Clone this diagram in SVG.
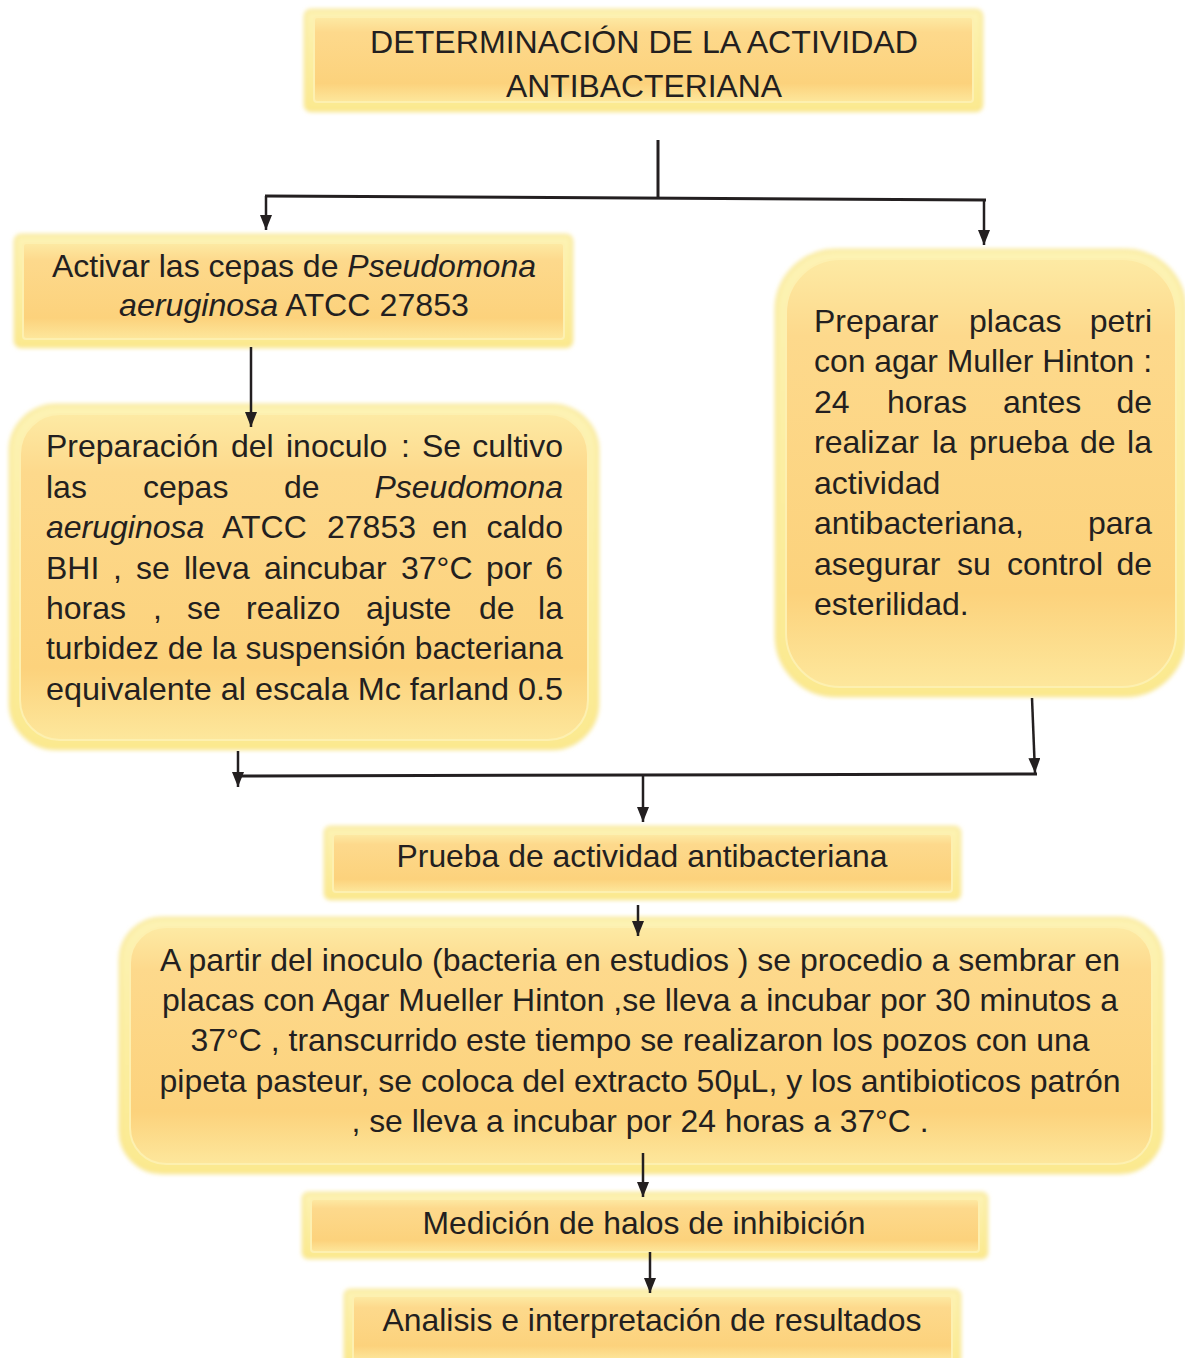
<svg xmlns="http://www.w3.org/2000/svg" width="1185" height="1358" viewBox="0 0 1185 1358">
  <defs>
    <linearGradient id="fill" x1="0" y1="0" x2="0" y2="1">
      <stop offset="0" stop-color="#fdeaa4"/>
      <stop offset="0.18" stop-color="#fdd98c"/>
      <stop offset="0.78" stop-color="#fcd27c"/>
      <stop offset="1" stop-color="#fde79c"/>
    </linearGradient>
    <linearGradient id="edge" x1="0" y1="0" x2="0" y2="1">
      <stop offset="0" stop-color="#fdf3b4"/>
      <stop offset="1" stop-color="#fbe98f"/>
    </linearGradient>
    <filter id="soft" x="-5%" y="-10%" width="110%" height="120%">
      <feGaussianBlur stdDeviation="2"/>
    </filter>
    <marker id="arrow" viewBox="0 0 15 12" refX="15" refY="6" markerWidth="15" markerHeight="12" markerUnits="userSpaceOnUse" orient="auto">
      <path d="M0,0 L15,6 L0,12 Z" fill="#231f20"/>
    </marker>
  </defs>
  <style>
    .outer { fill: url(#edge); stroke: #f7e27e; stroke-width: 2; filter: url(#soft); }
    .inner { fill: url(#fill); stroke: #fdf0b0; stroke-width: 2; }
    .t { font-family: "Liberation Sans", Arial, sans-serif; font-size: 32px; fill: #231f20; }
    .c { text-anchor: middle; }
    .e { text-anchor: end; }
    .i { font-style: italic; }
    .line { fill: none; stroke: #231f20; stroke-width: 3; }
    .arr { fill: none; stroke: #231f20; stroke-width: 2.5; marker-end: url(#arrow); }
  </style>
  <rect width="1185" height="1358" fill="#ffffff"/>

  <!-- Title -->
  <g id="title">
    <rect class="outer" x="305" y="10" width="677" height="101" rx="6"/>
    <rect class="inner" x="314" y="17" width="659" height="85" rx="3"/>
    <text class="t c" x="644" y="53" font-size="34" textLength="548" lengthAdjust="spacingAndGlyphs">DETERMINACIÓN DE LA ACTIVIDAD</text>
    <text class="t c" x="644" y="97" font-size="34" textLength="276" lengthAdjust="spacingAndGlyphs">ANTIBACTERIANA</text>
  </g>

  <!-- Activate strains -->
  <g id="activar">
    <rect class="outer" x="15" y="235" width="557" height="112" rx="6"/>
    <rect class="inner" x="23" y="243" width="541" height="96" rx="3"/>
    <text class="t c" x="294" y="277" textLength="484" lengthAdjust="spacingAndGlyphs">Activar las cepas de <tspan class="i">Pseudomona</tspan></text>
    <text class="t c" x="294" y="316" textLength="350" lengthAdjust="spacingAndGlyphs"><tspan class="i">aeruginosa</tspan> ATCC 27853</text>
  </g>

  <!-- Inoculum preparation -->
  <g id="inoculo">
    <rect class="outer" x="10" y="405" width="588" height="344" rx="46"/>
    <rect class="inner" x="20" y="414" width="568" height="326" rx="40"/>
    <text class="t" y="457"><tspan x="46">Preparación</tspan><tspan x="231">del</tspan><tspan x="286">inoculo</tspan><tspan x="401">:</tspan><tspan x="422">Se</tspan><tspan x="563" class="e">cultivo</tspan></text>
    <text class="t" y="498"><tspan x="46">las</tspan><tspan x="143">cepas</tspan><tspan x="284">de</tspan><tspan x="563" class="e i">Pseudomona</tspan></text>
    <text class="t" y="538"><tspan x="46" class="i">aeruginosa</tspan><tspan x="222">ATCC</tspan><tspan x="327">27853</tspan><tspan x="432">en</tspan><tspan x="563" class="e">caldo</tspan></text>
    <text class="t" y="579"><tspan x="46">BHI</tspan><tspan x="113">,</tspan><tspan x="136">se</tspan><tspan x="184">lleva</tspan><tspan x="264">aincubar</tspan><tspan x="401">37°C</tspan><tspan x="486">por</tspan><tspan x="563" class="e">6</tspan></text>
    <text class="t" y="619"><tspan x="46">horas</tspan><tspan x="153">,</tspan><tspan x="187">se</tspan><tspan x="246">realizo</tspan><tspan x="366">ajuste</tspan><tspan x="479">de</tspan><tspan x="563" class="e">la</tspan></text>
    <text class="t" x="46" y="659" textLength="517" lengthAdjust="spacingAndGlyphs">turbidez de la suspensión bacteriana</text>
    <text class="t" x="46" y="700" textLength="517" lengthAdjust="spacingAndGlyphs">equivalente al escala Mc farland 0.5</text>
  </g>

  <!-- Petri plates -->
  <g id="placas">
    <rect class="outer" x="776" y="250" width="409" height="446" rx="60"/>
    <rect class="inner" x="786" y="259" width="390" height="428" rx="54"/>
    <text class="t" y="332"><tspan x="814">Preparar</tspan><tspan x="969">placas</tspan><tspan x="1152" class="e">petri</tspan></text>
    <text class="t" x="814" y="372" textLength="338" lengthAdjust="spacingAndGlyphs">con agar Muller Hinton :</text>
    <text class="t" y="413"><tspan x="814">24</tspan><tspan x="887">horas</tspan><tspan x="1003">antes</tspan><tspan x="1152" class="e">de</tspan></text>
    <text class="t" y="453"><tspan x="814">realizar</tspan><tspan x="932">la</tspan><tspan x="969">prueba</tspan><tspan x="1080">de</tspan><tspan x="1152" class="e">la</tspan></text>
    <text class="t" x="814" y="494">actividad</text>
    <text class="t" y="534"><tspan x="814">antibacteriana,</tspan><tspan x="1152" class="e">para</tspan></text>
    <text class="t" y="575"><tspan x="814">asegurar</tspan><tspan x="957">su</tspan><tspan x="1007">control</tspan><tspan x="1152" class="e">de</tspan></text>
    <text class="t" x="814" y="615">esterilidad.</text>
  </g>

  <!-- Antibacterial test -->
  <g id="prueba">
    <rect class="outer" x="325" y="827" width="635" height="72" rx="5"/>
    <rect class="inner" x="333" y="834" width="619" height="58" rx="3"/>
    <text class="t c" x="642" y="867" textLength="491" lengthAdjust="spacingAndGlyphs">Prueba de actividad antibacteriana</text>
  </g>

  <!-- Procedure -->
  <g id="procedimiento">
    <rect class="outer" x="120" y="918" width="1042" height="255" rx="42"/>
    <rect class="inner" x="130" y="927" width="1022" height="237" rx="36"/>
    <text class="t c" x="640" y="971" textLength="960" lengthAdjust="spacingAndGlyphs">A partir del inoculo (bacteria en estudios ) se procedio a sembrar en</text>
    <text class="t c" x="640" y="1011" textLength="956" lengthAdjust="spacingAndGlyphs">placas con Agar Mueller Hinton ,se lleva a incubar por 30 minutos a</text>
    <text class="t c" x="640" y="1051" textLength="899" lengthAdjust="spacingAndGlyphs">37°C , transcurrido este tiempo se realizaron los pozos con una</text>
    <text class="t c" x="640" y="1092" textLength="961" lengthAdjust="spacingAndGlyphs">pipeta pasteur, se coloca del extracto 50µL, y los antibioticos patrón</text>
    <text class="t c" x="640" y="1132" textLength="577" lengthAdjust="spacingAndGlyphs">, se lleva a incubar por 24 horas a 37°C .</text>
  </g>

  <!-- Inhibition halos -->
  <g id="medicion">
    <rect class="outer" x="303" y="1193" width="684" height="65" rx="5"/>
    <rect class="inner" x="311" y="1199" width="668" height="53" rx="3"/>
    <text class="t c" x="644" y="1234" textLength="443" lengthAdjust="spacingAndGlyphs">Medición de halos de inhibición</text>
  </g>

  <!-- Analysis -->
  <g id="analisis">
    <rect class="outer" x="345" y="1290" width="615" height="75" rx="5"/>
    <rect class="inner" x="353" y="1296" width="599" height="64" rx="3"/>
    <text class="t c" x="652" y="1331" textLength="539" lengthAdjust="spacingAndGlyphs">Analisis e interpretación de resultados</text>
  </g>

  <!-- Connectors -->
  <g id="connectors">
    <path class="line" d="M658,140 V197"/>
    <path class="line" d="M265,196 L986,200"/>
    <path class="arr" d="M266,196 V230"/>
    <path class="arr" d="M984,200 V245"/>
    <path class="arr" d="M251,347 V427"/>
    <path class="arr" d="M238,751 V787"/>
    <path class="arr" d="M1032,698 L1035,773"/>
    <path class="line" d="M238,776 L1037,774"/>
    <path class="arr" d="M643,775 V822"/>
    <path class="arr" d="M638,905 V936"/>
    <path class="arr" d="M643,1153 V1197"/>
    <path class="arr" d="M650,1252 V1293"/>
  </g>
</svg>
